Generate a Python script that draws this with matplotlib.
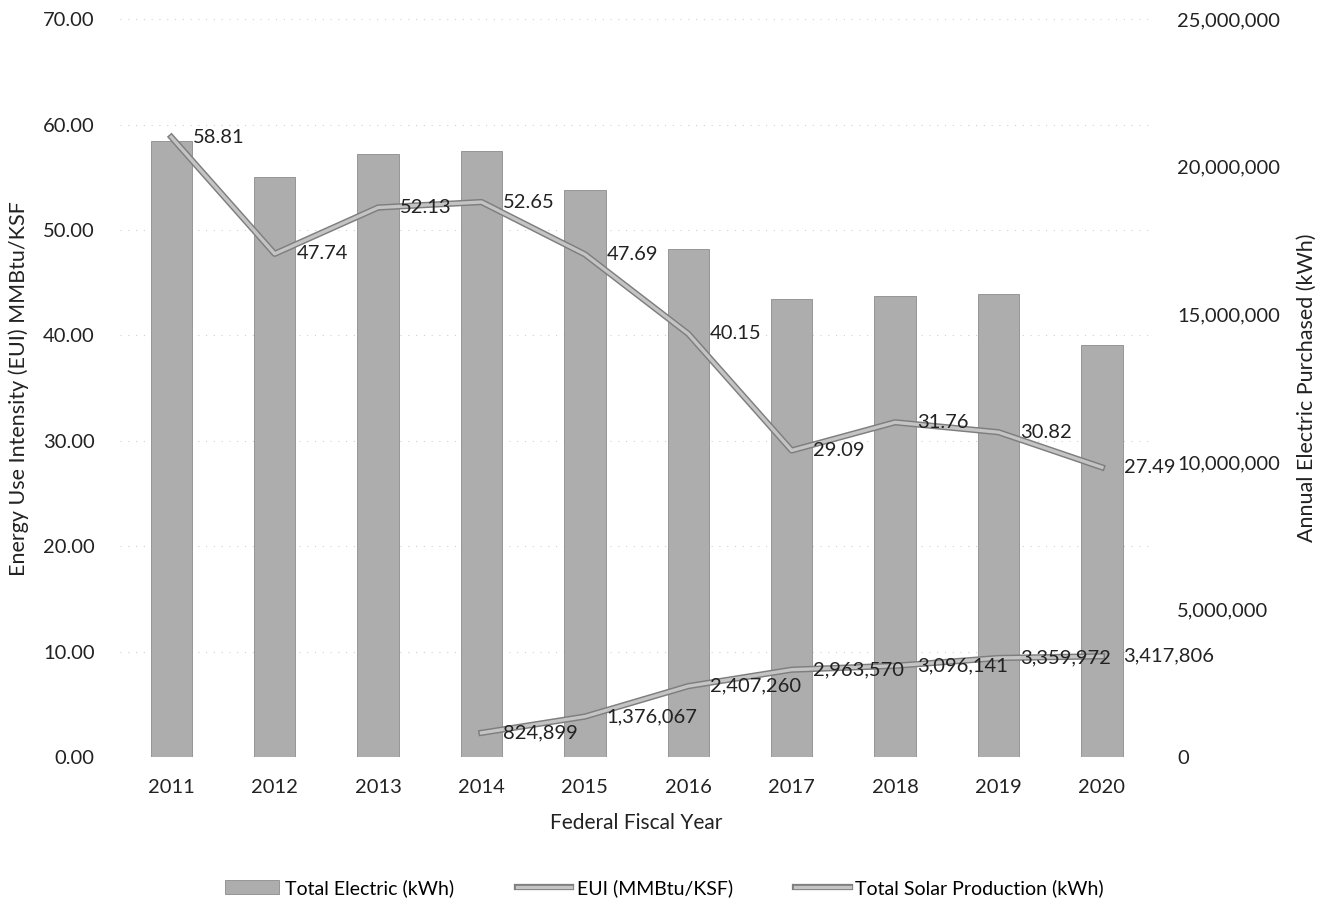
import matplotlib
matplotlib.use("Agg")
import matplotlib.pyplot as plt
import matplotlib.patheffects as pe
from matplotlib.ticker import FuncFormatter

plt.rcParams['font.family'] = ['Lato', 'DejaVu Sans']

# data
years = ['2011', '2012', '2013', '2014', '2015', '2016', '2017', '2018', '2019', '2020']
total_electric = [20870000, 19650000, 20430000, 20530000, 19210000,
                  17210000, 15510000, 15620000, 15680000, 13960000]
eui = [58.81, 47.74, 52.13, 52.65, 47.69, 40.15, 29.09, 31.76, 30.82, 27.49]
solar_years = ['2014', '2015', '2016', '2017', '2018', '2019', '2020']
solar = [824899, 1376067, 2407260, 2963570, 3096141, 3359972, 3417806]

eui_ticks = [0, 10, 20, 30, 40, 50, 60, 70]
kwh_ticks = [0, 5000000, 10000000, 15000000, 20000000, 25000000]

x = list(range(len(years)))
xs = [years.index(y) for y in solar_years]

bar_col = '#adadad'
line_col = '#c4c4c4'
edge_col = '#7e7e7e'
txt = '#222222'
fs = 14.5

fig = plt.figure(figsize=(13.29, 9.09), dpi=100)
ax = fig.add_axes([0.090, 0.167, 0.778, 0.812])
ax2 = ax.twinx()

# left axis drawn on top so the EUI line sits over the bars
ax.set_zorder(ax2.get_zorder() + 1)
ax.patch.set_visible(False)

# faint dotted grid at the left axis ticks, behind the bars
ax2.hlines(eui_ticks, -0.5, 9.5, transform=ax.transData, colors='#d0d0d0',
           linestyles=(0, (1, 6)), linewidth=0.8, zorder=0)

ax2.bar(x, total_electric, width=0.4, color=bar_col, edgecolor='#8c8c8c',
        linewidth=0.6, zorder=2, label='Total Electric (kWh)')

stroke = [pe.Stroke(linewidth=4.5, foreground=edge_col), pe.Normal()]
ln_eui, = ax.plot(x, eui, color=line_col, linewidth=2.4, path_effects=stroke,
                  zorder=3, label='EUI (MMBtu/KSF)')
ln_sol, = ax2.plot(xs, solar, color=line_col, linewidth=2.4, path_effects=stroke,
                   zorder=3, label='Total Solar Production (kWh)')

for i, v in zip(x, eui):
    ax.text(i + 0.21, v, f'{v:.2f}', ha='left', va='center', fontsize=fs,
            color=txt, zorder=4)
for i, v in zip(xs, solar):
    ax2.text(i + 0.21, v, f'{v:,}', ha='left', va='center', fontsize=fs,
             color=txt, zorder=4)

ax.set_xlim(-0.5, len(years) - 0.5)
ax.set_ylim(0, 70)
ax2.set_ylim(0, 25000000)
ax.set_yticks(eui_ticks)
ax2.set_yticks(kwh_ticks)
ax.yaxis.set_major_formatter(FuncFormatter(lambda v, p: f'{v:.2f}'))
ax2.yaxis.set_major_formatter(FuncFormatter(lambda v, p: f'{int(v):,}'))
ax.set_xticks(x)
ax.set_xticklabels(years)

for a in (ax, ax2):
    for s in a.spines.values():
        s.set_visible(False)
    a.tick_params(length=0, labelsize=14.5, colors=txt)
ax.tick_params(axis='y', pad=18)
ax2.tick_params(axis='y', pad=17)
ax.tick_params(axis='x', pad=16)

ax.set_xlabel('Federal Fiscal Year', fontsize=15, color=txt, labelpad=12)
ax.set_ylabel('Energy Use Intensity (EUI) MMBtu/KSF', fontsize=15.5, color=txt,
              labelpad=10)
ax2.set_ylabel('Annual Electric Purchased (kWh)', fontsize=15.5, color=txt,
               labelpad=12)

bars = ax2.containers[0]
fig.legend([bars, ln_eui, ln_sol],
           ['Total Electric (kWh)', 'EUI (MMBtu/KSF)', 'Total Solar Production (kWh)'],
           loc='lower center', bbox_to_anchor=(0.5, -0.006), ncol=3, frameon=False,
           fontsize=14, handlelength=2.8, columnspacing=3.2, handletextpad=0.3)

fig.savefig('out.png', dpi=100)
